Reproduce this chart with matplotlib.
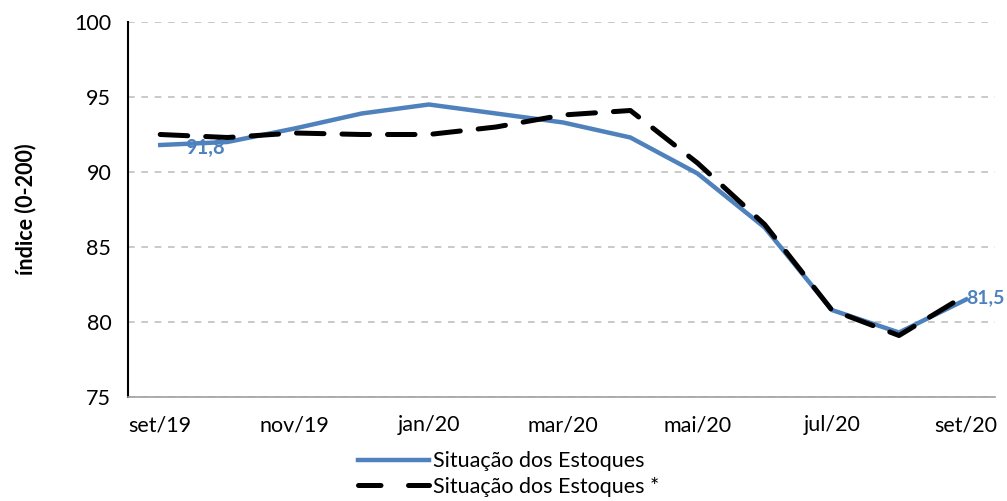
import matplotlib
matplotlib.use("Agg")
import matplotlib.pyplot as plt
from matplotlib.lines import Line2D

plt.rcParams['font.family'] = ['Lato', 'DejaVu Sans']

months = ["set/19", "out/19", "nov/19", "dez/19", "jan/20", "fev/20", "mar/20",
          "abr/20", "mai/20", "jun/20", "jul/20", "ago/20", "set/20"]
estoques = [91.8, 92.0, 92.9, 93.9, 94.5, 93.9, 93.3, 92.3, 89.9, 86.3, 80.8, 79.3, 81.5]
estoques_ajust = [92.5, 92.3, 92.6, 92.5, 92.5, 93.0, 93.8, 94.1, 90.6, 86.5, 80.8, 79.1, 81.8]
yticks = [75, 80, 85, 90, 95, 100]

blue = "#4f81bd"
fs = 15.5

fig = plt.figure(figsize=(10.07, 5.01), dpi=100)
ax = fig.add_axes([0.1271, 0.2076, 0.861, 0.7485])

x = list(range(len(months)))
ax.plot(x, estoques, color=blue, lw=3.2, solid_joinstyle='round', zorder=3,
        label="Situação dos Estoques")
ax.plot(x, estoques_ajust, color="black", lw=3.6, dashes=(5.5, 3.6),
        dash_capstyle='round', zorder=4, label="Situação dos Estoques *")

# value labels at the first and last points
ax.annotate(f"{estoques[0]:.1f}".replace(".", ","), (x[0], estoques[0]),
            xytext=(18, -2), textcoords="offset points", ha="left", va="center",
            color=blue, fontsize=14.5, fontweight="bold", zorder=2)
ax.annotate(f"{estoques[-1]:.1f}".replace(".", ","), (x[-1], estoques[-1]),
            xytext=(0, 1), textcoords="offset points", ha="left", va="center",
            color=blue, fontsize=14, fontweight="bold", zorder=5,
            annotation_clip=False)

ax.set_ylim(75, 100)
ax.set_yticks(yticks)
ax.set_xlim(-0.48, 12.43)
ax.set_xticks(x[::2])
ax.set_xticklabels(months[::2])
ax.tick_params(axis='both', labelsize=fs, length=0)
ax.tick_params(axis='x', pad=13)
ax.tick_params(axis='y', pad=12)

ax.yaxis.grid(True, color="#c0c0c0", lw=1.2, dashes=(4, 4))
ax.set_axisbelow(True)
for s in ("top", "right"):
    ax.spines[s].set_visible(False)
ax.spines["left"].set_color("black")
ax.spines["left"].set_linewidth(1.5)
ax.spines["bottom"].set_color("#a0a0a0")
ax.spines["bottom"].set_linewidth(1.2)

ax.set_ylabel("índice (0-200)", fontsize=fs, fontweight="bold", labelpad=27)

handles = [Line2D([], [], color=blue, lw=3.2),
           Line2D([], [], color="black", lw=3.6, dashes=(4.5, 5.5), dash_capstyle='round')]
fig.legend(handles, ["Situação dos Estoques", "Situação dos Estoques *"],
           loc="lower center", bbox_to_anchor=(0.505, -0.03), frameon=False,
           fontsize=fs, handlelength=3.3, handletextpad=0.15, labelspacing=0.25)

fig.savefig("out.png", dpi=100)
